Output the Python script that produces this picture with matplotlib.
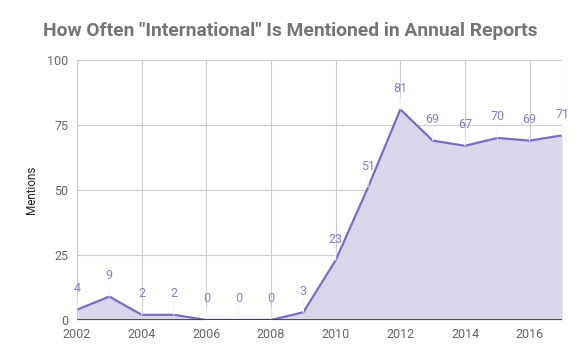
import matplotlib.pyplot as plt

plt.rcParams['font.family'] = ['Roboto', 'DejaVu Sans']

years = list(range(2002, 2018))
mentions = [4, 9, 2, 2, 0, 0, 0, 3, 23, 51, 81, 69, 67, 70, 69, 71]
xticks = [2002, 2004, 2006, 2008, 2010, 2012, 2014, 2016]
yticks = [0, 25, 50, 75, 100]

line_col = "#7e6bc4"
fill_col = "#dcd6ec"
label_col = "#8e7cc3"

fig = plt.figure(figsize=(5.8, 3.59), dpi=100)
ax = fig.add_axes([0.1328, 0.1086, 0.969 - 0.1328, 0.8329 - 0.1086])

ax.fill_between(years, mentions, 0, color=fill_col, linewidth=0, zorder=2)
ax.plot(years, mentions, color=line_col, linewidth=1.6, zorder=3)

for x, y in zip(years, mentions):
    ax.annotate(str(y), xy=(x, y), xytext=(0, 10.5), textcoords="offset points",
                ha="center", va="bottom", fontsize=9, color=label_col,
                arrowprops=dict(arrowstyle="-", color="#f4f4f4", lw=0.8,
                                shrinkA=0, shrinkB=0), zorder=4)

ax.set_xlim(2002, 2017)
ax.set_ylim(0, 100)
ax.set_xticks(xticks)
ax.set_yticks(yticks)
ax.grid(True, color="#cccccc", linewidth=0.8, zorder=0)
ax.axvline(2017, color="#cccccc", linewidth=0.8, zorder=0)
ax.axhline(0, color="#333333", linewidth=1.2, zorder=5)
for s in ax.spines.values():
    s.set_visible(False)
ax.tick_params(length=0, labelsize=9, labelcolor="#666666")
ax.tick_params(axis="x", pad=6)
ax.tick_params(axis="y", pad=6)

ax.set_ylabel("Mentions", fontsize=8.5, color="#222222", labelpad=7)
fig.suptitle('How Often "International" Is Mentioned in Annual Reports',
             x=0.5, y=0.94, fontsize=13.9, fontweight="bold", color="#757575")

fig.savefig("out.png", dpi=100)
